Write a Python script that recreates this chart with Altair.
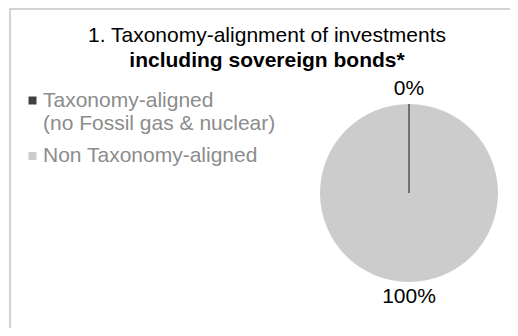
import altair as alt
import pandas as pd

# ---- data ----
categories = ["Taxonomy-aligned\n(no Fossil gas & nuclear)", "Non Taxonomy-aligned"]
values = [0, 100]
slice_order = [1, 0]
colors = ["#404040", "#cccccc"]
title_line1 = "1. Taxonomy-alignment of investments"
title_line2 = "including sovereign bonds*"

FONT = "Liberation Sans"

df = pd.DataFrame({"category": categories, "value": values, "order": slice_order})
color_scale = alt.Scale(domain=categories, range=colors)

CX, CY, R = 401, 111, 89

frame = alt.Chart(pd.DataFrame({"f": [0]})).mark_rect(
    fill="white", stroke="#d3d3d3", strokeWidth=2
).encode(x=alt.value(2), x2=alt.value(800), y=alt.value(-73), y2=alt.value(600))

base = alt.Chart(df).encode(
    theta=alt.Theta("value:Q", stack=True),
    order=alt.Order("order:Q"),
)

pie = base.mark_arc(radius=R, strokeWidth=0).encode(
    x=alt.value(CX),
    y=alt.value(CY),
    color=alt.Color(
        "category:N",
        scale=color_scale,
        sort=categories,
        legend=alt.Legend(
            title=None,
            orient="none",
            legendX=12,
            legendY=8,
            symbolType="square",
            symbolSize=64,
            symbolStrokeWidth=0,
            symbolOffset=2,
            labelFontSize=21,
            labelFont=FONT,
            labelColor="#8c8c8c",
            labelExpr="split(datum.label, '\\n')",
            labelOffset=0,
            labelLimit=400,
            rowPadding=10.5,
        ),
    ),
)

# outline of the (zero-width) aligned slice, drawn on top of the pie
edge = base.mark_arc(radius=R, filled=False, strokeWidth=1.3).encode(
    x=alt.value(CX),
    y=alt.value(CY),
    stroke=alt.Stroke("category:N", scale=color_scale, legend=None),
).transform_filter("datum.value == 0")

labels = base.transform_calculate(label="datum.value + '%'").mark_text(
    radius=104, fontSize=21, font=FONT, color="#000000"
).encode(x=alt.value(CX), y=alt.value(CY), text="label:N")

chart = alt.layer(frame, pie, edge, labels).properties(
    width=502,
    height=246,
    padding={"left": 0, "top": 74, "right": 0, "bottom": 0},
    autosize="none",
    background="#ffffff",
    title=alt.Title(
        title_line1,
        subtitle=title_line2,
        font=FONT,
        subtitleFont=FONT,
        fontSize=21,
        subtitleFontSize=21,
        fontWeight="normal",
        subtitleFontWeight="bold",
        color="#000000",
        subtitleColor="#000000",
        anchor="middle",
        frame="group",
        dx=8,
        offset=-63,
        subtitlePadding=4,
    ),
).configure_view(stroke=None)

chart.save("out.html", embed_options={"renderer": "svg", "actions": False})
